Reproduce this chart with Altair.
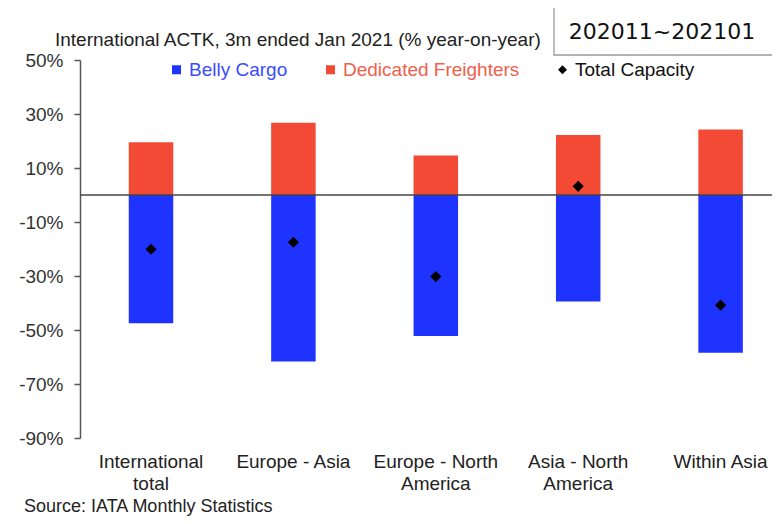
import altair as alt
import pandas as pd

categories = ["International|total", "Europe - Asia", "Europe - North|America",
              "Asia - North|America", "Within Asia"]
belly_cargo = [-47.5, -61.7, -52.2, -39.4, -58.4]
dedicated_freighters = [19.5, 26.8, 14.6, 22.2, 24.3]
total_capacity = [-20.1, -17.5, -30.2, 3.2, -40.8]
y_ticks = [-90, -70, -50, -30, -10, 10, 30, 50]
series_names = ["Belly Cargo", "Dedicated Freighters", "Total Capacity"]
series_colors = ["#1F33FF", "#F24A35", "#000000"]
title_text = "International ACTK, 3m ended Jan 2021 (% year-on-year)"
period_text = "202011~202101"
source_text = "Source: IATA Monthly Statistics"

rows = []
for i, c in enumerate(categories):
    rows.append({"category": c, "series": "Belly Cargo", "value": belly_cargo[i]})
    rows.append({"category": c, "series": "Dedicated Freighters", "value": dedicated_freighters[i]})
    rows.append({"category": c, "series": "Total Capacity", "value": total_capacity[i]})
df = pd.DataFrame(rows)

FONT = "Liberation Sans"
FS = 19
W, H = 692, 378

x_scale = alt.Scale(domain=categories, paddingInner=0.6875, paddingOuter=0.2736,
                    align=0.6258, round=False)
y_scale = alt.Scale(domain=[-90, 50], nice=False, zero=False)
color_scale = alt.Scale(domain=series_names, range=series_colors)

legend = alt.Legend(
    title=None, orient="none", legendX=87, legendY=0, direction="horizontal",
    symbolSize=81, labelFontSize=FS, labelFont=FONT, labelLimit=400,
    columnPadding=33, labelOffset=3, padding=0, symbolStrokeWidth=0,
    symbolType=alt.ExprRef(expr="datum.label == 'Total Capacity' ? 'diamond' : 'square'"),
    labelColor=alt.ExprRef(expr="datum.label == 'Belly Cargo' ? '#3B4BFF' : datum.label == 'Dedicated Freighters' ? '#F0604A' : '#111111'"),
)

x_enc = alt.X("category:N", scale=x_scale, sort=categories, title=None,
              axis=alt.Axis(domain=False, ticks=False, labelAngle=0,
                            labelExpr="split(datum.label, '|')",
                            labelFontSize=FS, labelFont=FONT, labelColor="#222222",
                            labelPadding=14, labelLineHeight=22))
y_enc = alt.Y("value:Q", scale=y_scale, title=None, stack=None,
              axis=alt.Axis(values=y_ticks, grid=False, labelExpr="datum.value + '%'",
                            labelFontSize=FS, labelFont=FONT, labelColor="#333333",
                            labelPadding=11, tickSize=6, tickColor="#555555",
                            domainColor="#555555", domainWidth=1.5, tickWidth=1.5))

base = alt.Chart(df)
bars = base.transform_filter(alt.datum.series != "Total Capacity").mark_bar().encode(
    x=x_enc, y=y_enc,
    color=alt.Color("series:N", scale=color_scale, legend=legend),
)
points = base.transform_filter(alt.datum.series == "Total Capacity").mark_point(
    shape="diamond", filled=True, size=125, opacity=1
).encode(
    x=x_enc, y=y_enc,
    color=alt.Color("series:N", scale=color_scale, legend=legend),
)
zero_line = alt.Chart(pd.DataFrame({"value": [0]})).mark_rule(
    color="#444444", strokeWidth=1.3
).encode(y=y_enc, x=alt.value(0), x2=alt.value(W))

one = pd.DataFrame({"t": [period_text]})
box = alt.Chart(one).mark_rect(fill="white", stroke="#9a9a9a", strokeWidth=1.3).encode(
    x=alt.value(474), x2=alt.value(W + 2), y=alt.value(-53), y2=alt.value(-5)
)
box_text = alt.Chart(one).mark_text(
    font="DejaVu Sans", fontSize=22, align="center", baseline="middle", color="#111111"
).encode(text="t:N", x=alt.value(582), y=alt.value(-28))

title = alt.Chart(pd.DataFrame({"t": [title_text]})).mark_text(
    font=FONT, fontSize=FS, align="left", baseline="alphabetic", color="#222222"
).encode(text="t:N", x=alt.value(-25), y=alt.value(-14))

src = alt.Chart(pd.DataFrame({"t": [source_text]})).mark_text(
    font=FONT, fontSize=18, align="left", baseline="alphabetic", color="#222222"
).encode(text="t:N", x=alt.value(-56), y=alt.value(452))

chart = alt.layer(bars, zero_line, points, box, box_text, title, src).properties(
    width=W, height=H,
    autosize=alt.AutoSizeParams(type="none"),
    padding={"left": 72, "top": 52, "right": 0, "bottom": 78},
).configure_view(stroke=None)

chart.save("out.html", embed_options={"renderer": "svg", "actions": False})
